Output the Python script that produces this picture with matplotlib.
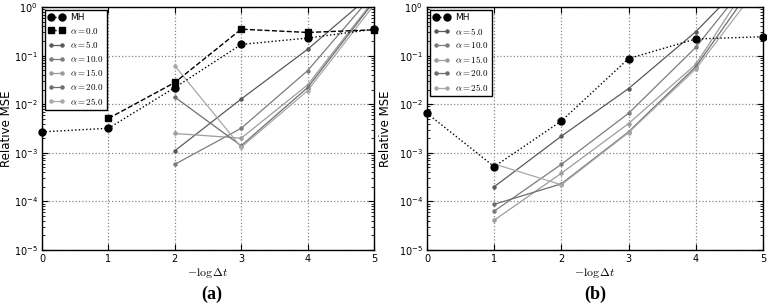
#!/usr/bin/env python3
"""Relative MSE vs -log dt for MH and several alpha values, panels (a) and (b)."""

import matplotlib
matplotlib.use("Agg")
import matplotlib.pyplot as plt
from matplotlib.ticker import LogLocator, NullFormatter

plt.rcParams["mathtext.fontset"] = "cm"
plt.rcParams["font.family"] = "DejaVu Sans"

x_vals = [0, 1, 2, 3, 4, 5]

# panel (a)
a_mh = [2.7e-3, 3.2e-3, 2.2e-2, 0.17, 0.23, 0.35]
a_alpha0_x = [1, 2, 3, 4, 5]
a_alpha0 = [5.1e-3, 2.8e-2, 0.35, 0.30, 0.34]
a_alpha_x = [2, 3, 4, 5]
a_alpha5 = [1.1e-3, 1.28e-2, 0.135, 2.0]
a_alpha10 = [5.8e-4, 3.2e-3, 0.049, 1.9]
a_alpha15 = [2.5e-3, 2.0e-3, 0.025, 1.4]
a_alpha20 = [1.4e-2, 1.4e-3, 0.022, 1.3]
a_alpha25 = [6.2e-2, 1.3e-3, 0.019, 1.1]

# panel (b)
b_mh = [6.5e-3, 5.2e-4, 4.5e-3, 0.087, 0.22, 0.245]
b_alpha_x = [1, 2, 3, 4, 5]
b_alpha5 = [2.0e-4, 2.2e-3, 0.021, 0.31, 8.1]
b_alpha10 = [6.3e-5, 5.8e-4, 6.5e-3, 0.148, 7.9]
b_alpha15 = [4.1e-5, 3.8e-4, 4.0e-3, 0.066, 8.5]
b_alpha20 = [8.7e-5, 2.3e-4, 2.7e-3, 0.059, 5.3]
b_alpha25 = [5.9e-4, 2.2e-4, 2.6e-3, 0.053, 3.5]

alpha_names = ["5.0", "10.0", "15.0", "20.0", "25.0"]
alpha_colors = ["#5a5a5a", "#7c7c7c", "#9c9c9c", "#6e6e6e", "#a8a8a8"]


def style_axes(ax):
    ax.set_yscale("log")
    ax.set_xlim(0, 5)
    ax.set_ylim(1e-5, 1)
    ax.yaxis.set_major_locator(LogLocator(base=10, numticks=10))
    ax.yaxis.set_minor_locator(LogLocator(base=10, subs=range(2, 10), numticks=10))
    ax.yaxis.set_minor_formatter(NullFormatter())
    ax.grid(True, which="major", linestyle=":", color="#888888", linewidth=0.9)
    ax.tick_params(which="both", direction="in", top=True, right=True, labelsize=7)
    ax.tick_params(which="major", length=4, pad=3)
    ax.tick_params(which="minor", length=2)
    ax.set_xlabel(r"$-\log\Delta t$", fontsize=8.5, labelpad=1)
    ax.set_ylabel("Relative MSE", fontsize=8.5)
    for sp in ax.spines.values():
        sp.set_linewidth(1.0)


fig = plt.figure(figsize=(7.67, 3.06), dpi=100)
ax1 = fig.add_axes([0.0548, 0.183, 0.4328, 0.794])
ax2 = fig.add_axes([0.5567, 0.183, 0.438, 0.794])

ax1.plot(x_vals, a_mh, "k:o", markersize=5, linewidth=1.0, label="MH", clip_on=False, zorder=5)
ax1.plot(a_alpha0_x, a_alpha0, "k--s", markersize=5, linewidth=1.0,
         label=r"$\alpha = 0.0$", clip_on=False, zorder=5)
for vals, name, col in zip([a_alpha5, a_alpha10, a_alpha15, a_alpha20, a_alpha25],
                           alpha_names, alpha_colors):
    ax1.plot(a_alpha_x, vals, "-", marker="o", markersize=2.2, color=col,
             linewidth=0.9, label=r"$\alpha = %s$" % name)

ax2.plot(x_vals, b_mh, "k:o", markersize=5, linewidth=1.0, label="MH", clip_on=False, zorder=5)
for vals, name, col in zip([b_alpha5, b_alpha10, b_alpha15, b_alpha20, b_alpha25],
                           alpha_names, alpha_colors):
    ax2.plot(b_alpha_x, vals, "-", marker="o", markersize=2.2, color=col,
             linewidth=0.9, label=r"$\alpha = %s$" % name)

for ax in (ax1, ax2):
    style_axes(ax)
    leg = ax.legend(loc="upper left", fontsize=6.5, numpoints=2, fancybox=False,
                    framealpha=1, edgecolor="black", borderaxespad=0.3,
                    handlelength=1.9, handletextpad=0.6, labelspacing=0.4,
                    borderpad=0.35)
    leg.get_frame().set_linewidth(1.0)

# place the y labels in pixel terms so the left one stays inside the figure
ax1.yaxis.set_label_coords(-0.087, 0.5)
ax2.yaxis.set_label_coords(-0.105, 0.5)

fig.text(0.276, 0.022, "(a)", fontsize=13, fontweight="bold",
         family="Liberation Serif", ha="center")
fig.text(0.776, 0.022, "(b)", fontsize=13, fontweight="bold",
         family="Liberation Serif", ha="center")

fig.savefig("out.png", dpi=100)
plt.close(fig)
